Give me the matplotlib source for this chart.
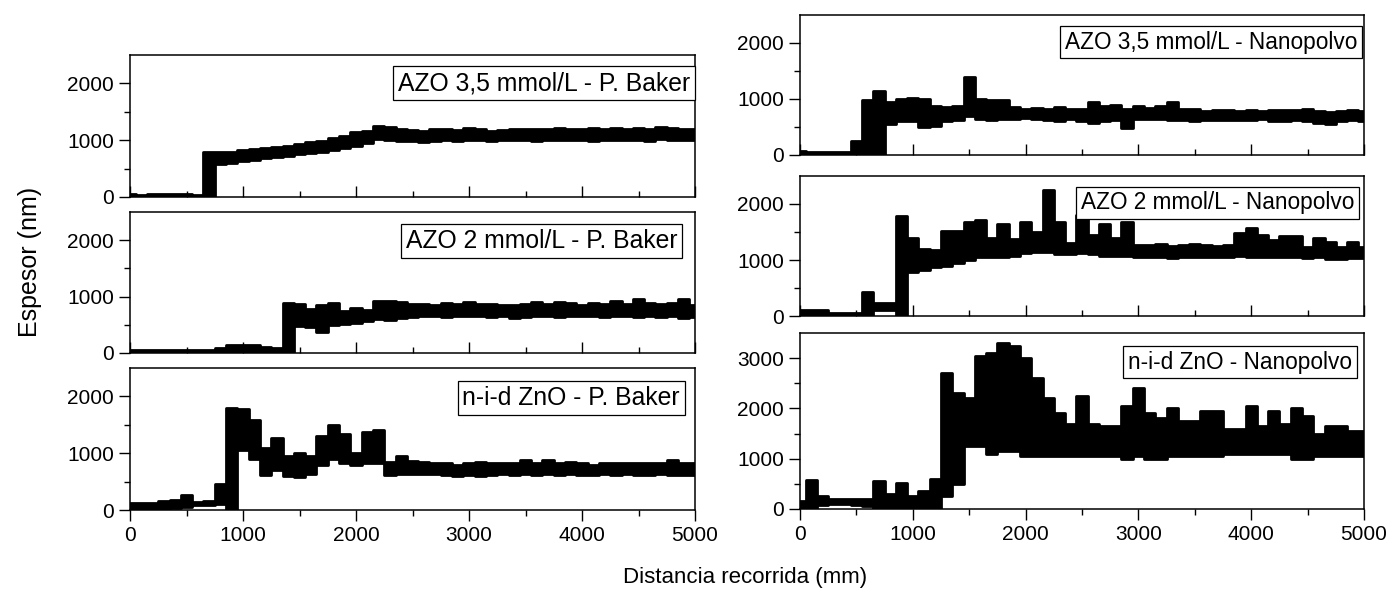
import matplotlib.pyplot as plt
import numpy as np

plt.rcParams['font.family'] = ['Liberation Sans', 'DejaVu Sans']

# positions along the track (mm), one column every 100 mm
dist = list(range(0, 5001, 100))

# lower / upper edge of the point cloud (nm) for each sample
azo35_pb_lo = [0, 0, 0, 0, 0, 0, 0, 0, 580, 600, 630, 650, 680, 700, 720, 750, 770, 800, 830, 860,
               900, 950, 1020, 1010, 990, 980, 960, 980, 1000, 990, 1010, 1000, 990, 1000, 1010, 1000,
               990, 1000, 1010, 1000, 1000, 990, 1010, 1000, 1010, 1000, 990, 1020, 1010, 1000, 1010]
azo35_pb_hi = [50, 40, 60, 50, 50, 60, 40, 800, 790, 790, 820, 840, 860, 880, 900, 930, 960, 990, 1030, 1080,
               1140, 1170, 1250, 1230, 1200, 1180, 1170, 1190, 1200, 1180, 1220, 1190, 1170, 1180, 1190, 1200,
               1200, 1190, 1220, 1200, 1190, 1210, 1200, 1220, 1190, 1210, 1200, 1230, 1210, 1190, 1200]

azo2_pb_lo = [0, 0, 0, 0, 0, 0, 0, 0, 0, 20, 20, 20, 10, 10, 0, 470, 460, 380, 500, 520,
              540, 560, 600, 580, 620, 640, 650, 650, 640, 650, 660, 650, 640, 650, 620, 640,
              660, 650, 640, 660, 650, 660, 640, 650, 660, 640, 650, 640, 660, 620, 640]
azo2_pb_hi = [50, 50, 50, 50, 50, 50, 50, 50, 80, 150, 140, 150, 110, 90, 880, 870, 780, 850, 880, 750,
              800, 760, 930, 920, 900, 860, 870, 850, 880, 860, 900, 860, 860, 850, 850, 860,
              900, 870, 900, 880, 850, 880, 870, 930, 860, 960, 880, 860, 880, 950, 850]

zno_pb_lo = [0, 0, 0, 20, 40, 60, 80, 80, 100, 0, 1050, 900, 620, 700, 600, 580, 640, 800, 900, 820,
             800, 820, 820, 620, 640, 630, 640, 640, 620, 600, 620, 600, 620, 630, 620, 640,
             620, 630, 620, 640, 620, 610, 630, 620, 630, 610, 620, 630, 620, 610, 620]
zno_pb_hi = [120, 120, 120, 150, 180, 260, 140, 160, 450, 1800, 1780, 1580, 1100, 1270, 950, 1000, 950, 1300, 1500, 1330,
             1000, 1380, 1400, 850, 950, 860, 850, 830, 820, 800, 830, 850, 820, 830, 830, 880,
             830, 880, 820, 840, 820, 800, 830, 820, 830, 830, 820, 830, 880, 820, 820]

azo35_np_lo = [0, 0, 0, 0, 0, 0, 0, 0, 550, 600, 600, 500, 520, 600, 620, 700, 650, 620, 640, 650,
               660, 640, 620, 610, 640, 600, 580, 600, 620, 480, 640, 650, 640, 630, 620, 600,
               620, 630, 620, 630, 620, 640, 610, 600, 620, 610, 570, 560, 600, 620, 610]
azo35_np_hi = [80, 60, 60, 60, 60, 250, 980, 1150, 950, 1000, 1010, 1000, 880, 850, 880, 1400, 1000, 980, 980, 850,
               820, 840, 820, 860, 830, 820, 950, 880, 900, 830, 870, 840, 880, 940, 820, 830,
               780, 800, 800, 790, 810, 790, 800, 810, 800, 820, 780, 760, 780, 800, 790]

azo2_np_lo = [0, 0, 0, 0, 0, 0, 0, 100, 100, 0, 780, 830, 870, 900, 940, 1000, 1050, 1050, 1050, 1080,
              1120, 1150, 1150, 1100, 1100, 1120, 1100, 1080, 1080, 1080, 1060, 1050, 1060, 1040, 1050, 1060,
              1050, 1050, 1060, 1070, 1060, 1060, 1050, 1060, 1050, 1040, 1050, 1020, 1010, 1030, 1040]
azo2_np_hi = [100, 100, 100, 60, 60, 60, 420, 230, 230, 1780, 1400, 1200, 1180, 1520, 1520, 1680, 1720, 1400, 1640, 1380,
              1680, 1500, 2250, 1680, 1300, 1800, 1450, 1640, 1400, 1680, 1270, 1260, 1280, 1250, 1260, 1280,
              1260, 1250, 1270, 1480, 1580, 1450, 1350, 1420, 1420, 1230, 1400, 1320, 1230, 1320, 1230]

zno_np_lo = [0, 0, 80, 100, 100, 80, 50, 0, 0, 0, 0, 0, 0, 250, 500, 1250, 1250, 1100, 1150, 1150,
             1050, 1050, 1050, 1050, 1050, 1050, 1050, 1050, 1050, 1000, 1050, 1000, 1000, 1050, 1050, 1050,
             1050, 1050, 1100, 1100, 1100, 1100, 1100, 1100, 1000, 1000, 1050, 1050, 1050, 1050, 1050]
zno_np_hi = [150, 570, 250, 200, 200, 200, 200, 560, 300, 520, 250, 350, 600, 2700, 2300, 2200, 3050, 3100, 3300, 3250,
             3000, 2600, 2200, 1900, 1700, 2250, 1700, 1650, 1650, 2050, 2400, 1900, 1800, 2000, 1750, 1750,
             1950, 1950, 1600, 1600, 2050, 1650, 1950, 1700, 2000, 1850, 1500, 1650, 1650, 1550, 1550]

panels = [
    # (lo, hi, label, ymax, axes rect in pixels: left, top, right, bottom, label box right/centre y, font)
    (azo35_pb_lo, azo35_pb_hi, 'AZO 3,5 mmol/L - P. Baker', 2500, (130, 55, 695, 197), (690, 83), 17.8),
    (azo2_pb_lo, azo2_pb_hi, 'AZO 2 mmol/L - P. Baker', 2500, (130, 212, 695, 353), (677, 241), 17.8),
    (zno_pb_lo, zno_pb_hi, 'n-i-d ZnO - P. Baker', 2500, (130, 368, 695, 510), (680, 398), 17.8),
    (azo35_np_lo, azo35_np_hi, 'AZO 3,5 mmol/L - Nanopolvo', 2500, (800, 15, 1364, 155), (1357, 42), 16.3),
    (azo2_np_lo, azo2_np_hi, 'AZO 2 mmol/L - Nanopolvo', 2500, (800, 176, 1364, 316), (1354, 203), 16.3),
    (zno_np_lo, zno_np_hi, 'n-i-d ZnO - Nanopolvo', 3500, (800, 333, 1364, 509), (1352, 362), 16.3),
]

W, H = 1386, 589
fig = plt.figure(figsize=(W / 100, H / 100), dpi=100)

x = np.array(dist)
for i, (lo, hi, label, ymax, (l, t, r, b), (bx, by), fs) in enumerate(panels):
    ax = fig.add_axes([l / W, 1 - b / H, (r - l) / W, (b - t) / H])
    lo = np.array(lo)
    hi = np.array(hi)
    ax.fill_between(x, lo, hi, step='mid', color='black', lw=0)
    ax.step(x, lo, where='mid', color='black', lw=2)
    ax.step(x, hi, where='mid', color='black', lw=2)

    ax.set_xlim(0, 5000)
    ax.set_ylim(0, ymax)
    ax.set_xticks(range(0, 5001, 1000))
    ax.set_xticks(range(500, 5000, 1000), minor=True)
    ax.set_yticks(range(0, ymax, 1000))
    ax.set_yticks(range(500, ymax, 1000), minor=True)

    bottom_row = i in (2, 5)
    ax.tick_params(axis='y', which='major', direction='out', length=8, width=1, labelsize=15)
    ax.tick_params(axis='y', which='minor', direction='out', length=4, width=1)
    ax.tick_params(axis='x', which='major', direction='out' if bottom_row else 'in',
                   length=8, width=1, labelsize=15, labelbottom=bottom_row)
    ax.tick_params(axis='x', which='minor', direction='out' if bottom_row else 'in',
                   length=4, width=1)
    for s in ax.spines.values():
        s.set_linewidth(1.1)

    fig.text(bx / W, 1 - by / H, label, ha='right', va='center', fontsize=fs,
             bbox=dict(boxstyle='square,pad=0.2', fc='white', ec='black', lw=0.9))

fig.text(30 / W, 1 - 262 / H, 'Espesor (nm)', rotation=90, ha='center', va='center', fontsize=18)
fig.text(745 / W, 1 - 578 / H, 'Distancia recorrida (mm)', ha='center', va='center', fontsize=16)

fig.savefig('out.png', dpi=100)
